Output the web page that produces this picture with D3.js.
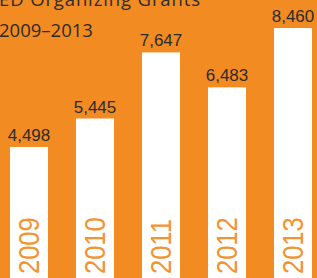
<!DOCTYPE html>
<html>
<head>
<meta charset="utf-8">
<script src="https://cdn.jsdelivr.net/npm/d3@7"></script>
<style>
  body { margin: 0; background: #f28c22; }
  svg { display: block; }
</style>
</head>
<body>
<div id="chart"></div>
<script>
'use strict';

// chart data
var years = ["2009", "2010", "2011", "2012", "2013"];
var grants = [4498, 5445, 7647, 6483, 8460];
var titleLines = ["ED Organizing Grants", "2009\u20132013"];

var width = 317, height = 278;
var orange = "#f28c22";

var svg = d3.select("#chart").append("svg")
    .attr("width", width)
    .attr("height", height)
    .style("background", orange);

// bars step 66px, width 38px
var x = d3.scaleBand()
    .domain(years)
    .range([-4, 326])
    .paddingInner(0.424)
    .paddingOuter(0.212);

var y = d3.scaleLinear()
    .domain([0, 8460])
    .range([282, 28]);

// title (clipped at top like the source)
svg.selectAll("text.title")
    .data(titleLines)
  .enter().append("text")
    .attr("class", "title")
    .attr("x", -1)
    .attr("y", function(d, i){ return 6 + i * 31; })
    .attr("textLength", function(d, i){ return i == 0 ? 201 : null; })
    .attr("lengthAdjust", "spacing")
    .style("font-family", "'Open Sans', sans-serif")
    .style("font-size", "18.5px")
    .style("fill", "#2b2b2b")
    .text(function(d){ return d; });

var bar = svg.selectAll("g.bar")
    .data(years)
  .enter().append("g")
    .attr("class", "bar");

bar.append("rect")
    .attr("x", function(d){ return x(d); })
    .attr("y", function(d, i){ return y(grants[i]); })
    .attr("width", x.bandwidth())
    .attr("height", function(d, i){ return height - y(grants[i]); })
    .style("fill", "#fff");

// value labels
bar.append("text")
    .attr("x", function(d){ return x(d) + x.bandwidth() / 2; })
    .attr("y", function(d, i){ return y(grants[i]) - 6; })
    .attr("text-anchor", "middle")
    .style("font-family", "'Liberation Sans', Arial, sans-serif")
    .style("font-size", "17px")
    .style("fill", "#2b2b2b")
    .text(function(d, i){ return d3.format(",")(grants[i]); });

// rotated year labels inside bars
bar.append("text")
    .attr("transform", function(d){
      return "translate(" + (x(d) + x.bandwidth() / 2 + 10) + "," + 274 + ") rotate(-90) scale(0.88,1)";
    })
    .style("font-family", "'Liberation Sans', Arial, sans-serif")
    .style("font-size", "29px")
    .style("fill", "#f39431")
    .text(function(d){ return d; });
</script>
</body>
</html>
